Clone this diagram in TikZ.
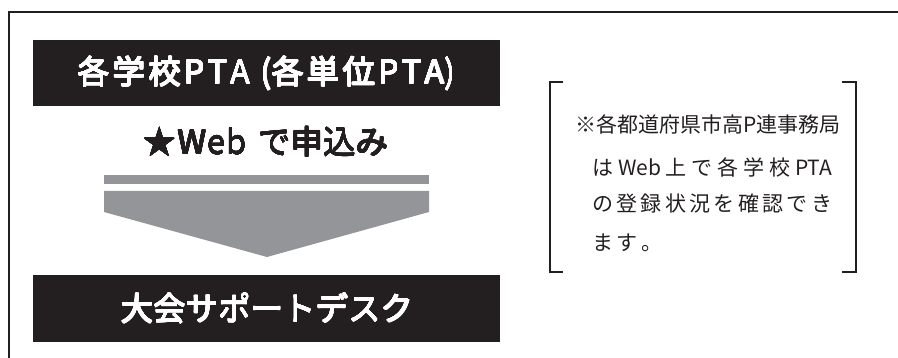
\documentclass[tikz,border=0pt]{standalone}
\usepackage{fontspec}
\usepackage[copies]{contour}
\contourlength{0.35pt}
\contournumber{16}
\newfontfamily\jp{Noto Sans CJK JP}
\definecolor{ink}{HTML}{231F20}
\definecolor{arrowgray}{HTML}{939598}
\newcommand{\thick}[2]{\contour{#1}{#2}}
\begin{document}
\begin{tikzpicture}[x=1pt,y=-1pt,
  blackbox/.style={fill=ink, draw=none, minimum width=467pt, minimum height=66pt, inner sep=0pt,
    text=white, font=\jp\fontsize{32.5}{32.5}\selectfont},
  webtext/.style={text=ink, inner sep=0pt, font=\jp\fontsize{32.5}{32.5}\selectfont},
  notetext/.style={text=ink, inner sep=0pt, anchor=west, font=\jp\fontsize{21}{21}\selectfont},
  bracket/.style={draw=ink, line width=1.3pt},
  frame/.style={draw=ink, line width=2pt}
]
\useasboundingbox (0,0) rectangle (898,358);
% outer frame (only top and left visible)
\draw[frame] (9,370) -- (9,12) -- (910,12);
% black boxes
\node[blackbox] (box1) at (266.5,73.5) {\thick{white}{\makebox[378pt][s]{各\hfill 学\hfill 校\hfill P\hfill T\hfill A\hfill\ (各\hfill 単\hfill 位\hfill P\hfill T\hfill A)}}};
\node[blackbox, minimum height=67pt] (box2) at (266.5,308.5) {\thick{white}{\makebox[291pt][s]{大\hfill 会\hfill サ\hfill ポ\hfill ー\hfill ト\hfill デ\hfill ス\hfill ク}}};
% web text
\node[webtext] (web) at (266,142) {\thick{ink}{\makebox[245pt][s]{★\hspace{2pt}W\hspace{1pt}e\hspace{1pt}b\hspace{8pt plus 1fill}で\hfil 申\hfil 込\hfil み}}};
% arrow
\fill[arrowgray] (104,175) rectangle (429,184);
\fill[arrowgray] (104,191) -- (429,191) -- (429,212) -- (267,257) -- (104,212) -- cycle;
% note brackets
\draw[bracket] (563,82) -- (550,82) -- (550,272) -- (563,272);
\draw[bracket] (842,82) -- (856,82) -- (856,272) -- (842,272);
% note text
\node[notetext] (n1) at (575,124) {\makebox[257pt][s]{※\hfill 各\hfill 都\hfill 道\hfill 府\hfill 県\hfill 市\hfill 高\hfill P\hfill 連\hfill 事\hfill 務\hfill 局}};
\node[notetext] (n2) at (592,167) {\makebox[240pt][s]{は\hfill Web\hfill 上\hfill で\hfill 各\hfill 学\hfill 校\hfill PTA}};
\node[notetext] (n3) at (592,204) {\makebox[240pt][s]{の\hfill 登\hfill 録\hfill 状\hfill 況\hfill を\hfill 確\hfill 認\hfill で\hfill き}};
\node[notetext] (n4) at (592,243) {\makebox[70pt][s]{ま\hfill す\hfill 。}};
\end{tikzpicture}
\end{document}
